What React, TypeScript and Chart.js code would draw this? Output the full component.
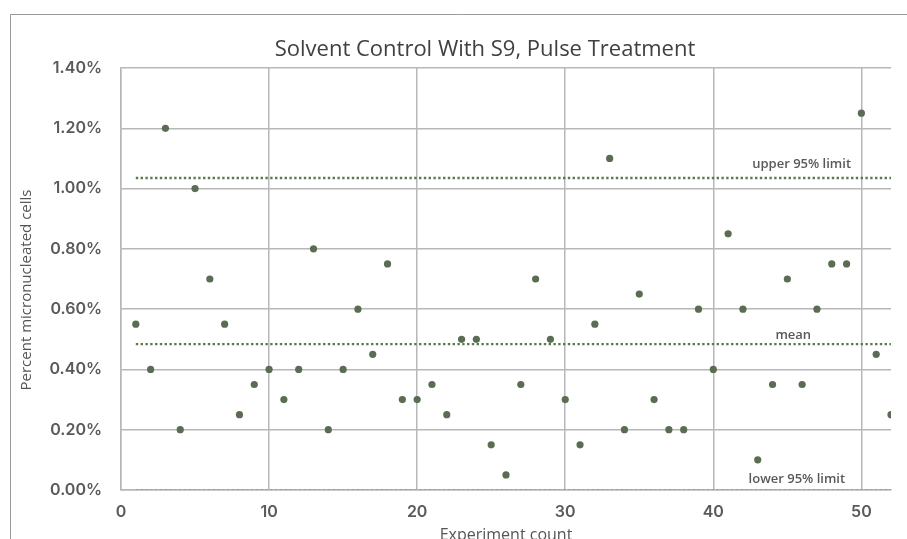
import React, { useEffect, useRef } from "react";
import { Chart, registerables } from "chart.js";

Chart.register(...registerables);

// ---- data ----
const experimentCount = [
  1, 2, 3, 4, 5, 6, 7, 8, 9, 10, 11, 12, 13, 14, 15, 16, 17, 18, 19, 20, 21, 22, 23, 24, 25, 26,
  27, 28, 29, 30, 31, 32, 33, 34, 35, 36, 37, 38, 39, 40, 41, 42, 43, 44, 45, 46, 47, 48, 49, 50, 51, 52,
];
const percentMicronucleated = [
  0.55, 0.4, 1.2, 0.2, 1.0, 0.7, 0.55, 0.25, 0.35, 0.4,
  0.3, 0.4, 0.8, 0.2, 0.4, 0.6, 0.45, 0.75, 0.3, 0.3,
  0.35, 0.25, 0.5, 0.5, 0.15, 0.05, 0.35, 0.7, 0.5, 0.3,
  0.15, 0.55, 1.1, 0.2, 0.65, 0.3, 0.2, 0.2, 0.6, 0.4,
  0.85, 0.6, 0.1, 0.35, 0.7, 0.35, 0.6, 0.75, 0.75, 1.25,
  0.45, 0.25,
];
const limitNames = ["upper 95% limit", "mean", "lower 95% limit"];
const limitValues = [1.035, 0.484, 0.0];
const limitStart = 1;
const limitEnd = 52;
// label anchor (x in experiment-count units)
const limitLabelX = [49.3, 45.4, 48.9];
const limitLabelAlign: CanvasTextAlign[] = ["right", "center", "right"];

const xTicks = [0, 10, 20, 30, 40, 50];
const yTicks = [0, 0.2, 0.4, 0.6, 0.8, 1.0, 1.2, 1.4];

const chartTitle = "Solvent Control With S9, Pulse Treatment";
const xTitle = "Experiment count";
const yTitle = "Percent micronucleated cells";

const POINT_COLOR = "#5a6d53";
const LINE_COLOR = "#5d7a4f";
const GRID_COLOR = "#b7b7b7";
const TICK_COLOR = "#5a5a5a";

const frameAndLabels = {
  id: "frameAndLabels",
  beforeDraw(chart: any) {
    const ctx = chart.ctx;
    ctx.save();
    ctx.fillStyle = "#ffffff";
    ctx.fillRect(0, 0, chart.width, chart.height);
    ctx.strokeStyle = "#9a9a9a";
    ctx.lineWidth = 1;
    ctx.beginPath();
    ctx.moveTo(10.5, chart.height);
    ctx.lineTo(10.5, 14.5);
    ctx.lineTo(chart.width, 14.5);
    ctx.stroke();
    ctx.restore();
  },
  afterDraw(chart: any) {
    const ctx = chart.ctx;
    const area = chart.chartArea;
    ctx.save();
    // chart title
    ctx.fillStyle = "#404040";
    ctx.font = "22px 'Open Sans'";
    ctx.textAlign = "center";
    ctx.textBaseline = "alphabetic";
    ctx.fillText(chartTitle, 485, 56);
    // x title
    ctx.fillStyle = "#555555";
    ctx.font = "16px 'Open Sans'";
    ctx.fillText(xTitle, (area.left + area.right) / 2, 539.5);
    // y title
    ctx.save();
    ctx.translate(31, 290);
    ctx.rotate(-Math.PI / 2);
    ctx.font = "15px 'Open Sans'";
    ctx.fillText(yTitle, 0, 0);
    ctx.restore();
    ctx.restore();
  },
  afterDatasetsDraw(chart: any) {
    const ctx = chart.ctx;
    const xs = chart.scales.x;
    const ys = chart.scales.y;
    const offsets = [-14, -9, -11];
    ctx.save();
    ctx.font = "600 13px 'Open Sans'";
    ctx.fillStyle = "#595959";
    ctx.textBaseline = "middle";
    limitNames.forEach((name, i) => {
      ctx.textAlign = limitLabelAlign[i];
      ctx.fillText(name, xs.getPixelForValue(limitLabelX[i]), ys.getPixelForValue(limitValues[i]) + offsets[i]);
    });
    ctx.restore();
  },
};

export default function App() {
  const ref = useRef<HTMLCanvasElement>(null);
  useEffect(() => {
    if (!ref.current) return;
    const limitDatasets = limitValues.map((v, i) => ({
      type: "line" as const,
      label: limitNames[i],
      data: [
        { x: limitStart, y: v },
        { x: limitEnd, y: v },
      ],
      showLine: true,
      borderColor: i === 2 ? "#8f9c88" : LINE_COLOR,
      borderWidth: i === 2 ? 1.5 : 2.4,
      borderDash: [2.4, 2.4],
      pointRadius: 0,
      fill: false,
    }));
    const chart = new Chart(ref.current, {
      type: "scatter",
      data: {
        datasets: [
          {
            label: "Percent micronucleated cells",
            data: experimentCount.map((x, i) => ({ x, y: percentMicronucleated[i] })),
            backgroundColor: POINT_COLOR,
            borderColor: POINT_COLOR,
            borderWidth: 0,
            pointRadius: 3.6,
          },
          ...limitDatasets,
        ] as any,
      },
      options: {
        responsive: false,
        animation: false,
        layout: { padding: { left: 0, right: 16, top: 68, bottom: 0 } },
        plugins: {
          legend: { display: false },
          tooltip: { enabled: false },
          title: { display: false },
        },
        scales: {
          x: {
            type: "linear",
            min: 0,
            max: 52,
            afterFit: (s: any) => {
              s.height = 49;
            },
            afterBuildTicks: (s: any) => {
              s.ticks = xTicks.map((v) => ({ value: v }));
            },
            ticks: {
              includeBounds: false,
              stepSize: 10,
              padding: 13,
              color: TICK_COLOR,
              font: { family: "Inter", size: 16, weight: "600" },
              maxRotation: 0,
            },
            grid: { color: GRID_COLOR, lineWidth: 1.5, drawTicks: false },
            border: { color: GRID_COLOR, width: 1.5 },
          },
          y: {
            type: "linear",
            min: 0,
            max: 1.4,
            afterFit: (s: any) => {
              s.width = 121;
            },
            afterBuildTicks: (s: any) => {
              s.ticks = yTicks.map((v) => ({ value: v }));
            },
            ticks: {
              stepSize: 0.2,
              padding: 19,
              color: TICK_COLOR,
              font: { family: "Inter", size: 16, weight: "600" },
              callback: (v: any) => Number(v).toFixed(2) + "%",
            },
            grid: { color: GRID_COLOR, lineWidth: 1.5, drawTicks: false },
            border: { color: GRID_COLOR, width: 1.5 },
          },
        },
      } as any,
      plugins: [frameAndLabels],
    });
    return () => chart.destroy();
  }, []);
  return (
    <div style={{ position: "fixed", left: 0, top: 0, width: 907, height: 539 }}>
      <canvas ref={ref} width={907} height={539} style={{ display: "block" }} />
    </div>
  );
}
